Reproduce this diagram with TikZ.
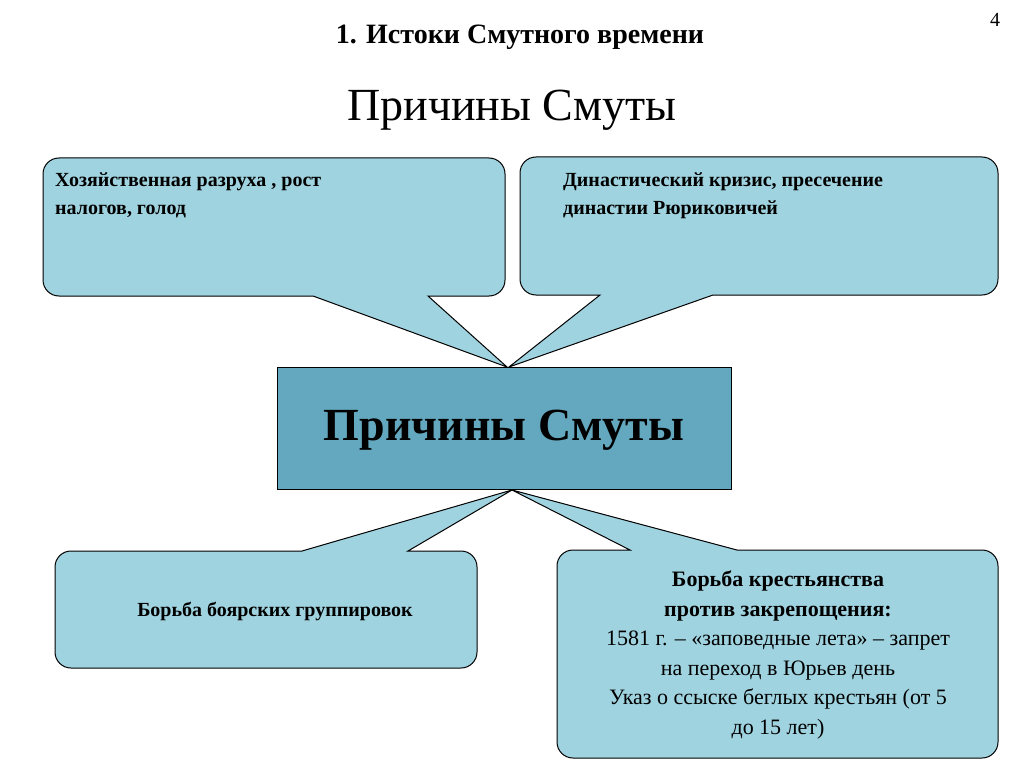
\documentclass[tikz,border=0pt]{standalone}
\usepackage{fontspec}
\setmainfont{Liberation Serif}
\definecolor{callout}{RGB}{160,211,224}
\definecolor{center}{RGB}{99,168,190}
\begin{document}
\begin{tikzpicture}[x=1pt,y=-1pt,
  bub/.style={fill=callout,draw=black,line width=1pt,line join=miter},
  txt/.style={font=\bfseries\fontsize{20}{24}\selectfont,align=left,anchor=north west,inner sep=0pt}]
\useasboundingbox (0,0) rectangle (1024,767);
\node (num) at (995,20) {\fontsize{20}{24}\selectfont 4};
\node (title) at (520,37) {\bfseries\fontsize{28}{32}\selectfont 1. Истоки Смутного времени};
\node (sub) at (512,110) {\fontsize{46}{52}\selectfont Причины Смуты};
% top-left
\draw[bub,rounded corners=16] (43,158) -- (505,158) -- (505,296) [sharp corners]-- (428,296) -- (507,367) -- (313,296) [rounded corners=16]-- (43,296) -- cycle;
% top-right
\draw[bub,rounded corners=16] (520,157) -- (998,157) -- (998,295) [sharp corners]-- (713,295) -- (509,367) -- (600,295) [rounded corners=16]-- (520,295) -- cycle;
% bottom-left
\draw[bub,rounded corners=16] (55,551) [sharp corners]-- (302,551) -- (512,490) -- (408,551) [rounded corners=16]-- (477,551) -- (477,668) -- (55,668) -- cycle;
% bottom-right
\draw[bub,rounded corners=16] (557,550) [sharp corners]-- (630,550) -- (512,490) -- (737,550) [rounded corners=16]-- (998,550) -- (998,758) -- (557,758) -- cycle;
% center
\node[draw=black,fill=center,line width=1pt,minimum width=454pt,minimum height=122pt,anchor=north west,inner sep=0pt] (c) at (277,367) {};
\node (ctext) at (504,430) {\bfseries\fontsize{46}{52}\selectfont Причины Смуты};
\node[txt] (tl) at (55,173) {Хозяйственная разруха , рост\\[4pt]налогов, голод};
\node[txt] (tr) at (563,173) {Династический кризис, пресечение\\[4pt]династии Рюриковичей};
\node[font=\bfseries\fontsize{20}{24}\selectfont] (bl) at (275,611) {Борьба боярских группировок};
\node[align=center,font=\fontsize{22}{29.6}\selectfont] (br) at (778,655) {\textbf{Борьба крестьянства}\\\textbf{против закрепощения:}\\1581 г. – «заповедные лета» – запрет\\на переход в Юрьев день\\Указ о ссыске беглых крестьян (от 5\\до 15 лет)};
\end{tikzpicture}
\end{document}
